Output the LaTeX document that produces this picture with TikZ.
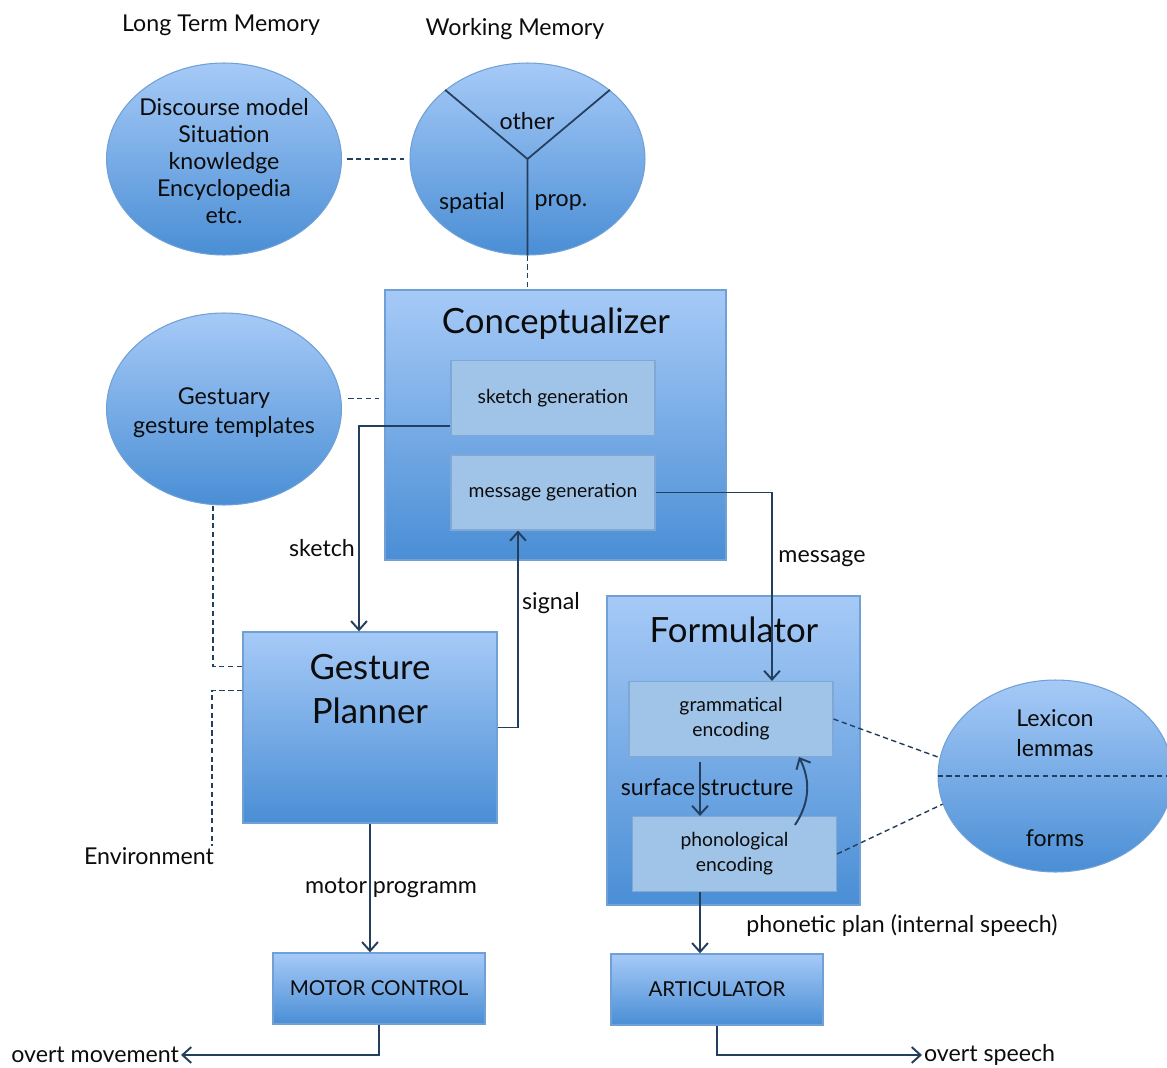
\documentclass[tikz,border=0pt]{standalone}
\usepackage{fontspec}
\setmainfont{Lato}
\usetikzlibrary{shapes.geometric,arrows.meta}
\definecolor{boxtop}{RGB}{166,202,247}
\definecolor{boxbottom}{RGB}{74,142,213}
\definecolor{boxline}{RGB}{112,160,214}
\definecolor{subfill}{RGB}{160,195,232}
\definecolor{subline}{RGB}{128,168,214}
\definecolor{flowline}{RGB}{36,62,94}
\definecolor{inktext}{RGB}{12,12,12}

\begin{document}
\begin{tikzpicture}[
    x = 0.02cm,
    y = -0.02cm,
    every node/.style = {
      text = inktext,
      font = \fontsize{13.2}{15}\selectfont,
    },
    memory/.style = {
      ellipse,
      draw = boxline,
      line width = 0.6pt,
      top color = boxtop,
      bottom color = boxbottom,
      minimum width = 4.7cm,
      minimum height = 3.84cm,
      inner sep = 0pt,
    },
    module/.style = {
      draw = boxline,
      line width = 0.8pt,
      top color = boxtop,
      bottom color = boxbottom,
      inner sep = 0pt,
    },
    subbox/.style = {
      draw = subline,
      fill = subfill,
      line width = 0.6pt,
      minimum width = 4.08cm,
      minimum height = 1.5cm,
      align = center,
      font = \fontsize{11}{14.2}\selectfont,
    },
    heading/.style = {
      font = \fontsize{19.8}{25}\selectfont,
    },
    flow/.style = {
      draw = flowline,
      line width = 1.1pt,
      -{Straight Barb[length = 5pt, width = 9pt]},
    },
    dashlink/.style = {
      draw = flowline,
      line width = 0.8pt,
      dash pattern = on 3pt off 2pt,
    },
    divider/.style = {
      draw = flowline,
      line width = 1pt,
    },
    tag/.style = {
      inner sep = 1pt,
    },
  ]
  \clip (0,0) rectangle (1167,1068);

  \node [memory] (ltm) at (224,159) {};
  \node [align = center, font = \fontsize{13.2}{15.3}\selectfont] (ltmtext) at (224,161)
    {Discourse model\\Situation\\knowledge\\Encyclopedia\\etc.};
  \node (ltmhead) at (221,25) {Long Term Memory};

  \node [memory] (wm) at (527.5,159) {};
  \node (wmhead) at (515,29) {Working Memory};
  \node (other) at (527,121) {other};
  \node (spatial) at (472,203) {spatial};
  \node (prop) at (561,203) {prop.};

  \node [memory] (gestuary) at (224,409) {};
  \node [align = center, font = \fontsize{13.2}{16.5}\selectfont] (gestext) at (224,413)
    {Gestuary\\gesture templates};

  \node [memory] (lexicon) at (1055.5,776) {};
  \node [align = center, font = \fontsize{13.2}{17}\selectfont] (lexhead) at (1055,733) {Lexicon\\lemmas};
  \node (forms) at (1055,838) {forms};

  \node [module, minimum width = 6.82cm, minimum height = 5.4cm] (concept) at (555.5,425) {};
  \node [heading] (concepttitle) at (556,324) {Conceptualizer};
  \node [subbox] (sketchgen) at (553,398) {sketch generation};
  \node [subbox] (msggen) at (553,492.5) {message generation};

  \node [module, minimum width = 5.08cm, minimum height = 3.82cm] (planner) at (370,727.5) {};
  \node [heading, align = center] (plannertitle) at (370,689) {Gesture\\Planner};

  \node [module, minimum width = 5.06cm, minimum height = 6.18cm] (formulator) at (733.5,750.5) {};
  \node [heading] (formtitle) at (734,630) {Formulator};
  \node [subbox] (grammar) at (731,719) {grammatical\\encoding};
  \node [subbox] (phono) at (734.5,854) {phonological\\encoding};

  \node [module, minimum width = 4.24cm, minimum height = 1.42cm,
    font = \fontsize{11.7}{13}\selectfont] (motor) at (379,988.5) {MOTOR CONTROL};
  \node [module, minimum width = 4.24cm, minimum height = 1.42cm,
    font = \fontsize{11.7}{13}\selectfont] (artic) at (717,989.5) {ARTICULATOR};

  \node (sketchlbl) at (322,548) {sketch};
  \node (signallbl) at (551,603) {signal};
  \node (messagelbl) at (822,559) {message};
  \node (surfacelbl) at (707,787) {surface structure};
  \node (motorlbl) at (391,888) {motor programm};
  \node (phoneticlbl) at (902,925) {phonetic plan (internal speech)};
  \node (envlbl) at (149,856) {Environment};
  \node [tag, anchor = east] (movement) at (181,1055) {overt movement};
  \node [tag, anchor = west] (speech) at (922,1055) {overt speech};
  \coordinate (envend) at (212,846);

  \draw [dashlink, shorten <= 3pt, shorten >= 3pt] (ltm) -- (wm);
  \draw [divider] (wm.140) -- (wm.center) -- (wm.40) (wm.center) -- (wm.south);
  \draw [dashlink] (wm.south) -- (wm.south |- concept.north);
  \draw [dashlink, shorten <= 4pt, shorten >= 3pt] (gestuary.5) -- (gestuary.5 -| concept.west);
  \draw [dashlink] ([xshift = -0.22cm]gestuary.south) |- ([yshift = -0.7cm]planner.north west);
  \draw [dashlink] ([yshift = -1.18cm]planner.north west) -| (envend);

  \draw [flow] ([yshift = 0.2cm]sketchgen.south west) -| ([xshift = -0.22cm]planner.north);
  \draw [flow] (planner.east) -| ([xshift = -0.7cm]msggen.south);
  \draw [flow] (msggen.east) -| ([xshift = 0.82cm]grammar.north);
  \draw [flow, shorten <= 3pt] ([xshift = -0.62cm]grammar.south)
    -- ([xshift = -0.62cm]grammar.south |- phono.north);
  \draw [flow] ([xshift = 1.21cm, yshift = -0.18cm]phono.north)
    to [bend right = 30] ([xshift = 1.36cm]grammar.south);
  \draw [dashlink] (grammar.east) -- (lexicon.171);
  \draw [dashlink] (phono.east) -- (lexicon.194);
  \draw [dashlink] (lexicon.west) -- (lexicon.east);
  \draw [flow] ([xshift = -0.69cm]phono.south) -- ([xshift = -0.69cm]phono.south |- artic.north);
  \draw [flow] (planner.south) -- (planner.south |- motor.north);
  \draw [flow] (motor.south) |- (movement.east);
  \draw [flow] (artic.south) |- (speech.west);
\end{tikzpicture}
\end{document}
